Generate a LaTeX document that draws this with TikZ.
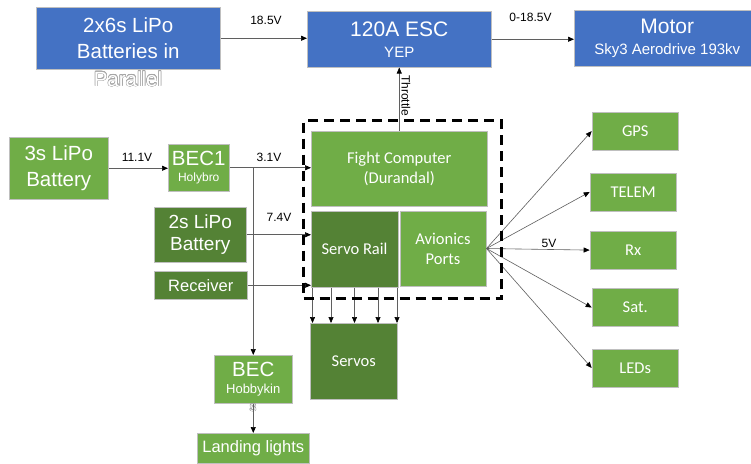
\documentclass[tikz,border=0pt]{standalone}
\usepackage{fontspec}
\setmainfont{Liberation Sans}
\newfontfamily\calfont{Carlito}
\usepackage{contour}
\contourlength{0.5pt}
\usetikzlibrary{arrows.meta,calc}
\definecolor{offblue}{RGB}{68,114,196}
\definecolor{lgreen}{RGB}{112,173,71}
\definecolor{dgreen}{RGB}{84,130,53}
\definecolor{lineg}{RGB}{95,95,95}
\begin{document}
\begin{tikzpicture}[x=1pt,y=-1pt,
  box/.style={draw=black!25, line width=0.5pt, inner sep=0pt, anchor=north west, text=white, align=center},
  bluebox/.style={box, fill=offblue},
  lbox/.style={box, fill=lgreen},
  dbox/.style={box, fill=dgreen},
  arr/.style={draw=lineg, line width=0.6pt, -{Triangle[length=6pt,width=5pt,color=black]}},
  lab/.style={font=\fontsize{12}{14}\selectfont, inner sep=0pt, text=black},
  big/.style={font=\fontsize{20.5}{26}\selectfont},
  cal/.style={font=\calfont\fontsize{16.5}{20}\selectfont}
]
\fill[white] (0,0) rectangle (751,463);
\useasboundingbox (0,0) rectangle (751,463);

% top row
\node[bluebox, big, minimum width=184pt, minimum height=62pt] (bat) at (36,7) {2x6s LiPo\\Batteries in};
\node[text=white, font=\fontsize{20.5}{26}\selectfont, inner sep=0pt] (par) at (128,79) {\contour{gray!70}{Parallel}};
\node[bluebox, minimum width=184pt, minimum height=56pt, font=\fontsize{21}{21}\selectfont] (esc) at (307,11) {120A ESC\\{\fontsize{15}{18}\selectfont YEP}};
\node[bluebox, minimum width=186pt, minimum height=56pt, font=\fontsize{21}{21}\selectfont] (motor) at (574,10) {Motor\\{\fontsize{15}{18}\selectfont Sky3 Aerodrive 193kv}};

% flight computer group
\node[lbox, font=\calfont\fontsize{16.5}{20}\selectfont, minimum width=176pt, minimum height=75pt] (fc) at (311,131) {Fight Computer\\(Durandal)};
\node[dbox, cal, minimum width=86.5pt, minimum height=76pt] (rail) at (311,211) {Servo Rail};
\node[lbox, cal, minimum width=86.5pt, minimum height=74.5pt] (av) at (399.5,211) {Avionics\\Ports};

% left side
\node[lbox, big, minimum width=99pt, minimum height=62pt] (b3) at (9,137) {3s LiPo\\Battery};
\node[lbox, minimum width=61pt, minimum height=47pt, font=\fontsize{20.5}{16.5}\selectfont] (bec1) at (168,144) {BEC1\\{\fontsize{12}{14}\selectfont Holybro}};
\node[dbox, minimum width=92pt, minimum height=55pt, font=\fontsize{19}{22.5}\selectfont] (b2) at (154,207) {2s LiPo\\Battery};
\node[dbox, minimum width=93pt, minimum height=28pt, font=\fontsize{16.5}{20}\selectfont] (rcv) at (154,271) {Receiver};
\node[dbox, cal, minimum width=87pt, minimum height=76pt] (servos) at (310,323) {Servos};
\node[lbox, minimum width=78pt, minimum height=48pt, font=\fontsize{20.5}{17.3}\selectfont] (bech) at (214,355) {BEC\\{\fontsize{13}{15}\selectfont Hobbykin}};
\node[text=white, font=\fontsize{13}{15}\selectfont, inner sep=0pt] (bechs) at (253,408) {\contour{gray!70}{s}};
\node[lbox, minimum width=112pt, minimum height=30pt, font=\fontsize{16.5}{20}\selectfont] (land) at (197,433) {Landing lights};

% right side
\node[lbox, cal, minimum width=86.6pt, minimum height=38.3pt] (gps) at (591.7,111.7) {GPS};
\node[lbox, cal, minimum width=86.3pt, minimum height=38pt] (telem) at (589.7,172.7) {TELEM};
\node[lbox, cal, minimum width=86.3pt, minimum height=38.3pt] (rx) at (589.7,230.7) {Rx};
\node[lbox, cal, minimum width=86.6pt, minimum height=38pt] (sat) at (591.7,288.3) {Sat.};
\node[lbox, cal, minimum width=86.6pt, minimum height=38pt] (leds) at (591.7,348.7) {LEDs};

% connectors
\draw[arr] (bat.east) -- (bat.east -| esc.west);
\node[lab] (l185) at (266,20.5) {18.5V};
\draw[arr] (esc.east) -- (esc.east -| motor.west);
\node[lab] (l0185) at (530.5,17.5) {0-18.5V};
\draw[arr] (b3.east) -- (b3.east -| bec1.west);
\node[lab] (l111) at (137,157.5) {11.1V};
\draw[arr] (bec1.east) -- (bec1.east -| fc.west);
\node[lab] (l31) at (269,157.5) {3.1V};
\draw[arr] (bec1.east -| bech.north) -- (bech.north);
\draw[arr] (b2.east) -- (b2.east -| rail.west);
\node[lab] (l74) at (279,217.5) {7.4V};
\draw[arr] (rcv.east) -- (rcv.east -| rail.west);
\foreach \dx in {1.5,20,43.5,67,86}
  \draw[arr] ([xshift=\dx pt]rail.south west) -- ([xshift=\dx pt]rail.south west |- servos.north);
\draw[arr] (bech.south) -- (land.north);
\foreach \t in {gps,telem,rx,sat,leds}
  \draw[arr] (av.east) -- (\t.west);
\node[lab] (l5) at (549,243) {5V};

% dashed enclosure
\node[draw=black, line width=3pt, dash pattern=on 10pt off 6pt, anchor=north west, inner sep=0pt, minimum width=198pt, minimum height=178pt] (fcbox) at (302,119) {};
\draw[arr] (fc.north) -- node[pos=0.56, rotate=-90, anchor=south, inner sep=2pt, font=\fontsize{12}{14}\selectfont] (thr) {Throttle} (esc.south);
\end{tikzpicture}
\end{document}
